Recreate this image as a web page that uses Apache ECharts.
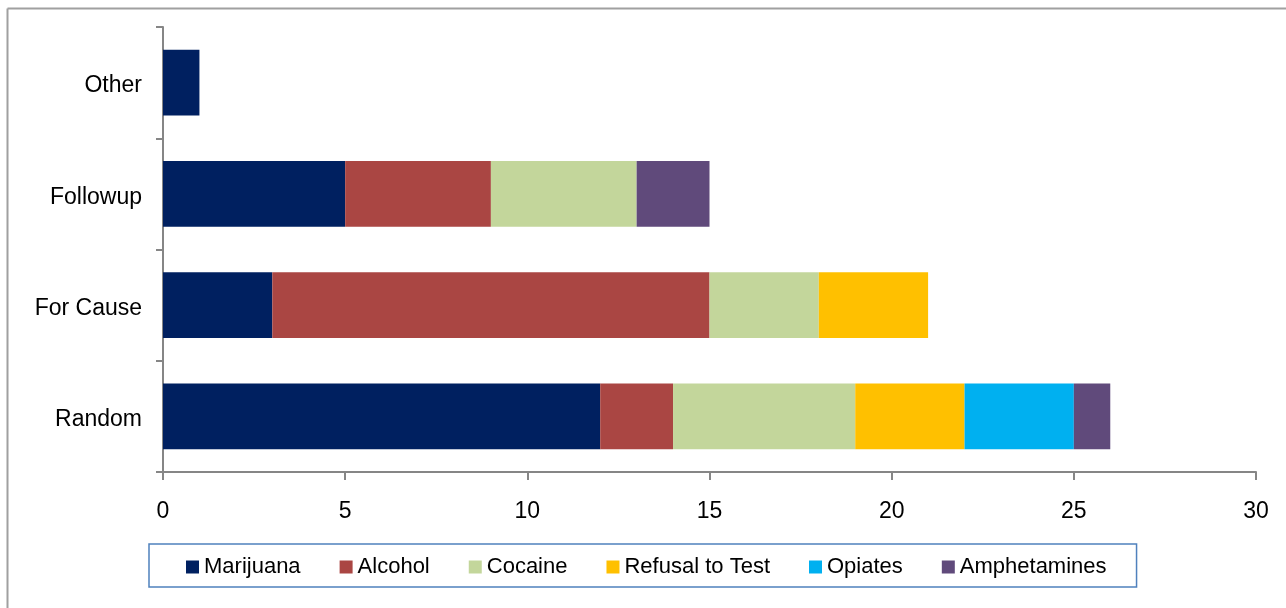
<!DOCTYPE html>
<html>
<head>
<meta charset="utf-8">
<script src="https://cdn.jsdelivr.net/npm/echarts@6/dist/echarts.min.js"></script>
<style>
html,body{margin:0;padding:0;background:#fff;}
#chart{width:1286px;height:608px;}
</style>
</head>
<body>
<div id="chart"></div>
<script>
const categories = ['Random', 'For Cause', 'Followup', 'Other'];
const seriesNames = ['Marijuana', 'Alcohol', 'Cocaine', 'Refusal to Test', 'Opiates', 'Amphetamines'];
const marijuana = [12, 3, 5, 1];
const alcohol = [2, 12, 4, 0];
const cocaine = [5, 3, 4, 0];
const refusal = [3, 3, 0, 0];
const opiates = [3, 0, 0, 0];
const amphetamines = [1, 0, 2, 0];
const xTicks = [0, 5, 10, 15, 20, 25, 30];

const colors = ['#002060', '#AA4643', '#C3D69B', '#FFC000', '#00B0F0', '#604A7B'];
const values = [marijuana, alcohol, cocaine, refusal, opiates, amphetamines];

const font = 'Liberation Sans, Arial, sans-serif';
const chart = echarts.init(document.getElementById('chart'), null, {renderer: 'canvas'});
chart.setOption({
  animation: false,
  color: colors,
  graphic: [
    {type: 'line', shape: {x1: 7.5, y1: 8.5, x2: 1286, y2: 8.5}, style: {stroke: '#a0a0a0', lineWidth: 2}},
    {type: 'line', shape: {x1: 7.5, y1: 8.5, x2: 7.5, y2: 608}, style: {stroke: '#a0a0a0', lineWidth: 2}}
  ],
  grid: {left: 163, right: 30, top: 27, bottom: 136, containLabel: false},
  legend: {
    left: 149, top: 544,
    padding: [12, 30, 9, 37],
    itemGap: 39,
    itemWidth: 13, itemHeight: 13,
    icon: 'rect',
    borderColor: '#4F81BD', borderWidth: 1.5,
    textStyle: {fontFamily: font, fontSize: 22, color: '#000'},
    data: seriesNames
  },
  xAxis: {
    type: 'value', min: 0, max: 30, interval: 5,
    axisLine: {show: true, lineStyle: {color: '#868686', width: 2}},
    axisTick: {show: true, length: 8, lineStyle: {color: '#868686', width: 2}},
    splitLine: {show: false},
    axisLabel: {fontFamily: font, fontSize: 23, color: '#000', margin: 28,
      formatter: v => xTicks.includes(v) ? String(v) : ''}
  },
  yAxis: {
    type: 'category', data: categories,
    axisLine: {show: true, lineStyle: {color: '#868686', width: 2}},
    axisTick: {show: true, length: 7, lineStyle: {color: '#868686', width: 2}},
    axisLabel: {fontFamily: font, fontSize: 23, color: '#000', margin: 21, verticalAlign: 'top', lineHeight: 7}
  },
  series: seriesNames.map((name, i) => ({
    name: name, type: 'bar', stack: 'total',
    barCategoryGap: '41%',
    data: values[i].map(v => v === 0 ? null : v),
    itemStyle: {color: colors[i]}
  }))
});
</script>
</body>
</html>
